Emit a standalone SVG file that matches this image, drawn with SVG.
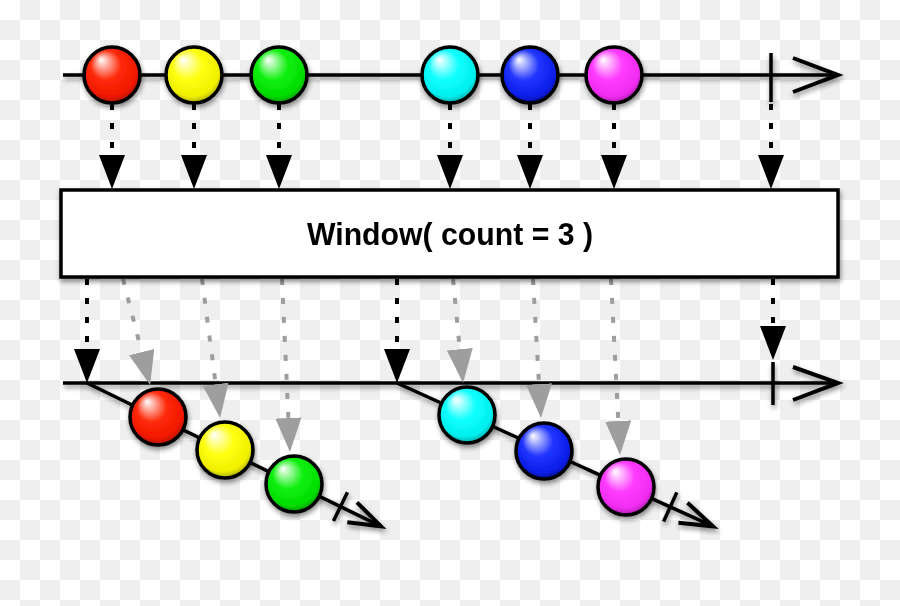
<svg xmlns="http://www.w3.org/2000/svg" width="900" height="606" viewBox="0 0 900 606">
<defs>
<pattern id="checker" patternUnits="userSpaceOnUse" width="40" height="40">
<rect width="40" height="40" fill="#ffffff"/>
<rect x="20" y="0" width="20" height="20" fill="#efefef"/>
<rect x="0" y="20" width="20" height="20" fill="#efefef"/>
</pattern>
<filter id="sh" x="-20%" y="-20%" width="140%" height="160%">
<feDropShadow dx="1" dy="3" stdDeviation="2.5" flood-color="#000" flood-opacity="0.45"/>
</filter>
<radialGradient id="gRed" cx="0.5" cy="0.45" r="0.6" fx="0.3" fy="0.22"><stop offset="0" stop-color="#fff"/><stop offset="0.45" stop-color="#ff2a0a"/><stop offset="0.8" stop-color="#f01800"/><stop offset="1" stop-color="#8a1000"/></radialGradient>
<radialGradient id="gYellow" cx="0.5" cy="0.45" r="0.6" fx="0.3" fy="0.22"><stop offset="0" stop-color="#fff"/><stop offset="0.45" stop-color="#ffff10"/><stop offset="0.8" stop-color="#f0f000"/><stop offset="1" stop-color="#8a8a00"/></radialGradient>
<radialGradient id="gGreen" cx="0.5" cy="0.45" r="0.6" fx="0.3" fy="0.22"><stop offset="0" stop-color="#fff"/><stop offset="0.45" stop-color="#10f010"/><stop offset="0.8" stop-color="#00dd00"/><stop offset="1" stop-color="#007a00"/></radialGradient>
<radialGradient id="gCyan" cx="0.5" cy="0.45" r="0.6" fx="0.3" fy="0.22"><stop offset="0" stop-color="#fff"/><stop offset="0.45" stop-color="#10ffff"/><stop offset="0.8" stop-color="#00eeee"/><stop offset="1" stop-color="#008888"/></radialGradient>
<radialGradient id="gBlue" cx="0.5" cy="0.45" r="0.6" fx="0.3" fy="0.22"><stop offset="0" stop-color="#fff"/><stop offset="0.45" stop-color="#2236ff"/><stop offset="0.8" stop-color="#0a1ee8"/><stop offset="1" stop-color="#000c80"/></radialGradient>
<radialGradient id="gMagenta" cx="0.5" cy="0.45" r="0.6" fx="0.3" fy="0.22"><stop offset="0" stop-color="#fff"/><stop offset="0.45" stop-color="#ff3cff"/><stop offset="0.8" stop-color="#f02cf0"/><stop offset="1" stop-color="#901890"/></radialGradient>
<marker id="triB" markerUnits="userSpaceOnUse" markerWidth="34" markerHeight="26" viewBox="0 0 34 26" refX="0" refY="13" orient="auto">
<path d="M0,0 L34,13 L0,26 Z" fill="#000"/>
</marker>
<marker id="triG" markerUnits="userSpaceOnUse" markerWidth="34" markerHeight="26" viewBox="0 0 34 26" refX="0" refY="13" orient="auto">
<path d="M0,0 L34,13 L0,26 Z" fill="#9e9e9e"/>
</marker>
<style>
.line{fill:none;stroke:#000;stroke-width:3.5}
.ah{fill:none;stroke:#000;stroke-width:4}
.dotB{fill:none;stroke:#000;stroke-width:4;stroke-dasharray:6 13;marker-end:url(#triB)}
.dotG{fill:none;stroke:#9e9e9e;stroke-width:4;stroke-dasharray:6 13;marker-end:url(#triG)}
.m{stroke:#000;stroke-width:3.5}
.box{fill:#fff;stroke:#000;stroke-width:3.5}
.lbl{font-family:"Liberation Sans",Arial,Helvetica,sans-serif;font-weight:bold;font-size:32px;fill:#000}
</style>
</defs>
<rect width="900" height="606" fill="url(#checker)"/>

<g id="connectors">
<g filter="url(#sh)">
<path class="line" d="M63,75 H838"/>
<path class="line" d="M771,53 V102"/>
<path class="ah" d="M793,58 L838,75 L793,92"/>
<path class="line" d="M63,383 H838"/>
<path class="line" d="M773,362 V405"/>
<path class="ah" d="M793,367 L838,383 L793,400"/>
<g transform="translate(87,383) rotate(26)">
<path class="line" d="M0,0 H326"/>
<path class="line" d="M282,-16 V16"/>
<path class="ah" d="M295,-11 L327,0 L295,11"/>
</g>
<g transform="translate(397,383) rotate(24.4)">
<path class="line" d="M0,0 H346"/>
<path class="line" d="M300,-16 V16"/>
<path class="ah" d="M314,-11 L347,0 L314,11"/>
</g>
</g>
<path class="dotB" d="M112,104 V155"/>
<path class="dotB" d="M194,104 V155"/>
<path class="dotB" d="M279,104 V155"/>
<path class="dotB" d="M450,104 V155"/>
<path class="dotB" d="M530,104 V155"/>
<path class="dotB" d="M614,104 V155"/>
<path class="dotB" d="M771,104 V155"/>
<path class="dotB" d="M87,279 V349"/>
<path class="dotB" d="M397,279 V349"/>
<path class="dotB" d="M773,279 V326"/>
<path class="dotG" d="M123,279 L141.7,352.1"/>
<path class="dotG" d="M202,279 L215.7,384.3"/>
<path class="dotG" d="M282,279 L288.4,418"/>
<path class="dotG" d="M453,279 L459.8,349.2"/>
<path class="dotG" d="M533,279 L539,384.1"/>
<path class="dotG" d="M611,279 L618.3,421"/>
</g>

<g id="operator" filter="url(#sh)">
<rect class="box" x="61" y="190" width="777" height="87"/>
<text class="lbl" x="450" y="245" text-anchor="middle" textLength="286" lengthAdjust="spacingAndGlyphs">Window( count = 3 )</text>
</g>

<g id="in-red" filter="url(#sh)"><circle class="m" cx="112" cy="75" r="28" fill="url(#gRed)"/></g>
<g id="in-yellow" filter="url(#sh)"><circle class="m" cx="194" cy="75" r="28" fill="url(#gYellow)"/></g>
<g id="in-green" filter="url(#sh)"><circle class="m" cx="279" cy="75" r="28" fill="url(#gGreen)"/></g>
<g id="in-cyan" filter="url(#sh)"><circle class="m" cx="450" cy="75" r="28" fill="url(#gCyan)"/></g>
<g id="in-blue" filter="url(#sh)"><circle class="m" cx="530" cy="75" r="28" fill="url(#gBlue)"/></g>
<g id="in-magenta" filter="url(#sh)"><circle class="m" cx="614" cy="75" r="28" fill="url(#gMagenta)"/></g>

<g id="out-red" filter="url(#sh)"><circle class="m" cx="158" cy="417" r="28" fill="url(#gRed)"/></g>
<g id="out-yellow" filter="url(#sh)"><circle class="m" cx="225" cy="450" r="28" fill="url(#gYellow)"/></g>
<g id="out-green" filter="url(#sh)"><circle class="m" cx="294" cy="484" r="28" fill="url(#gGreen)"/></g>
<g id="out-cyan" filter="url(#sh)"><circle class="m" cx="467" cy="415" r="28" fill="url(#gCyan)"/></g>
<g id="out-blue" filter="url(#sh)"><circle class="m" cx="544" cy="451" r="28" fill="url(#gBlue)"/></g>
<g id="out-magenta" filter="url(#sh)"><circle class="m" cx="626" cy="487" r="28" fill="url(#gMagenta)"/></g>
</svg>
